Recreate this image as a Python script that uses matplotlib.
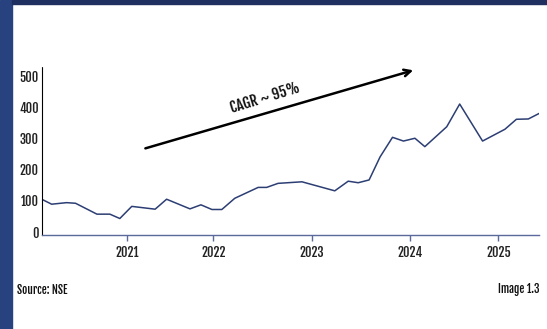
import matplotlib
matplotlib.use("Agg")
import matplotlib.pyplot as plt
from matplotlib.patches import Rectangle

# ---- data (x in relative time units along the axis, y = index value) ----
x_pos = [0, 2.0, 5.0, 6.8, 11.1, 13.7, 15.7, 18.1, 22.8, 25.1, 29.8, 32.0, 34.2,
         36.2, 38.8, 43.5, 45.2, 47.5, 52.3, 58.9, 61.6, 63.6, 65.8, 68.0, 70.5,
         72.7, 75.0, 77.0, 81.4, 84.0, 88.6, 93.1, 95.4, 97.8, 100]
values = [104, 88, 93, 91, 56, 56, 42, 81, 72, 104, 73, 86, 71,
          71, 107, 142, 142, 155, 160, 131, 162, 157, 166, 240, 303,
          291, 300, 273, 337, 410, 291, 329, 361, 362, 380]
year_ticks = [17.1, 34.5, 54.3, 74.0, 91.8]
year_labels = ["2021", "2022", "2023", "2024", "2025"]
y_ticks = [0, 100, 200, 300, 400, 500]
annotation = "CAGR ~ 95%"
arrow_start = (20.3, 265)
arrow_end = (75.2, 521)
source_text = "Source: NSE"
image_text = "Image 1.3"

FONT = ["Fjalla One", "Oswald", "DejaVu Sans"]
plt.rcParams["font.family"] = FONT

W, H = 547, 329
fig = plt.figure(figsize=(W / 100, H / 100), dpi=100)
fig.patch.set_facecolor("white")

# decorative frame bars
fig.add_artist(Rectangle((0, 0), 11.5 / W, 1, transform=fig.transFigure,
                         color="#27427f", zorder=0))
fig.add_artist(Rectangle((11.5 / W, 1 - 4.2 / H), 1, 4.2 / H, transform=fig.transFigure,
                         color="#1f2f60", zorder=0))

ax = fig.add_axes([41.7 / W, 1 - 235 / H, (539.3 - 41.7) / W, (235 - 66.7) / H])
line_color = "#2c3e73"
ax.plot(x_pos, values, color=line_color, lw=1.1)
ax.set_xlim(0, 100)
ax.set_ylim(-11, 530)

ax.set_xticks(year_ticks)
ax.set_xticklabels(year_labels)
ax.set_yticks(y_ticks)
ax.set_yticklabels([str(v) for v in y_ticks])

for s in ["top", "right"]:
    ax.spines[s].set_visible(False)
ax.spines["left"].set_linestyle((0, (1, 1)))
ax.spines["left"].set_color("black")
ax.spines["left"].set_linewidth(0.8)
ax.spines["bottom"].set_color("#5a6a9a")
ax.spines["bottom"].set_linewidth(1.0)

ax.tick_params(axis="x", length=4, color="#5a6a9a", width=1, pad=3,
               labelsize=9, labelcolor="#222222")
ax.tick_params(axis="y", length=0, pad=2, labelsize=9, labelcolor="#222222")

ax.annotate("", xy=arrow_end, xytext=arrow_start,
            arrowprops=dict(arrowstyle="->", color="black", lw=1.8,
                            mutation_scale=12), annotation_clip=False)
ax.text(44.9, 429, annotation, rotation=17, ha="center", va="center",
        fontsize=10.5, color="#111111", rotation_mode="anchor")

fig.text(16.7 / W, 1 - 290 / H, source_text, ha="left", va="center",
         fontsize=8, color="#111111")
fig.text(539.5 / W, 1 - 290 / H, image_text, ha="right", va="center",
         fontsize=8, color="#111111")

fig.savefig("out.png", dpi=100)
